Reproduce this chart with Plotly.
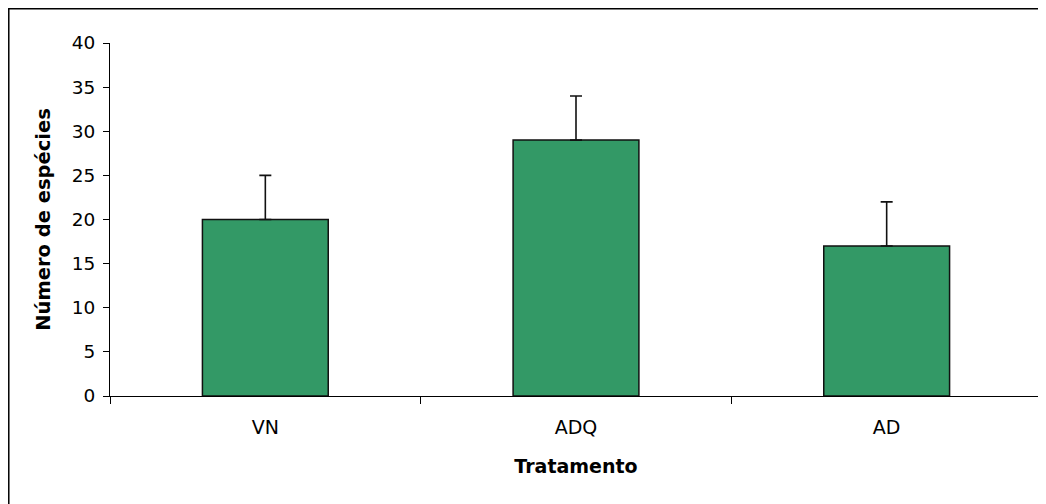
import plotly.graph_objects as go

categories = ["VN", "ADQ", "AD"]
values = [20, 29, 17]
errors_plus = [5, 5, 5]
y_ticks = [0, 5, 10, 15, 20, 25, 30, 35, 40]

fig = go.Figure()
fig.add_trace(go.Bar(
    x=categories,
    y=values,
    width=0.405,
    marker=dict(color="#339966", line=dict(color="#111111", width=1.5)),
    error_y=dict(type="data", symmetric=False, array=errors_plus,
                 arrayminus=[0] * len(values), color="#111111",
                 thickness=1.6, width=6),
))

fig.update_layout(
    width=1038, height=496,
    margin=dict(l=102, r=4, t=35, b=108),
    paper_bgcolor="white", plot_bgcolor="white",
    showlegend=False,
    font=dict(family="DejaVu Sans", color="black"),
    xaxis=dict(
        type="category",
        range=[-0.5, 2.5],
        showline=True, linecolor="black", linewidth=1,
        ticks="outside", tickson="boundaries", ticklen=7, tickcolor="black",
        tickfont=dict(size=19, family="DejaVu Sans"),
        ticklabelstandoff=14,
        showgrid=False,
        title=dict(text="<b>Tratamento</b>", font=dict(size=19, family="DejaVu Sans"), standoff=22),
    ),
    yaxis=dict(
        range=[0, 40],
        tickvals=y_ticks,
        showline=True, linecolor="black", linewidth=1,
        ticks="outside", ticklen=6, tickcolor="black",
        tickfont=dict(size=18.5, family="DejaVu Sans"),
        ticklabelstandoff=4,
        showgrid=False, zeroline=False,
        title=dict(text="<b>Número de espécies</b>", font=dict(size=19.5, family="DejaVu Sans"), standoff=15),
    ),
    shapes=[dict(type="rect", xref="paper", yref="paper",
                 x0=-0.1086, x1=1.02, y0=-0.4, y1=1.097,
                 line=dict(color="black", width=1.5), fillcolor="rgba(0,0,0,0)", layer="below")],
)

fig.write_html("out.html")
